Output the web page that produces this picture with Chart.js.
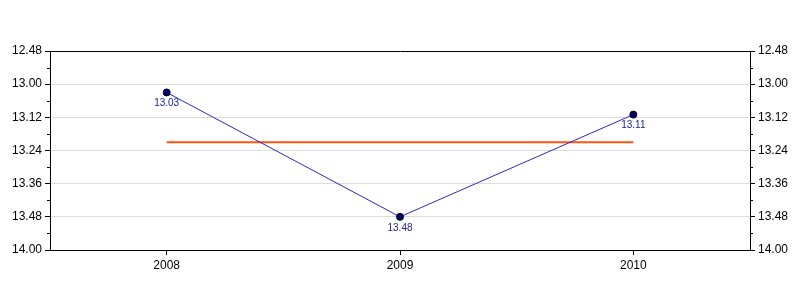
<!DOCTYPE html>
<html>
<head>
<meta charset="utf-8">
<script src="https://cdn.jsdelivr.net/npm/chart.js@4/dist/chart.umd.min.js"></script>
<style>
    html, body { margin: 0; padding: 0; background: #fff; }
    #wrap { width: 800px; height: 300px; }
</style>
</head>
<body>
<div id="wrap"><canvas id="timeChart"></canvas></div>
<script>
// Data (times are minutes.seconds)
const years = ['2008', '2009', '2010'];
const times = ['13.03', '13.48', '13.11'];
const averageTimes = ['13.21', '13.21', '13.21'];
const yTickLabels = ['12.48', '13.00', '13.12', '13.24', '13.36', '13.48', '14.00'];

// "13.03" -> 783 seconds
function toSeconds(s) {
    const parts = s.split('.');
    return parseInt(parts[0]) * 60 + parseInt(parts[1]);
}
function toLabel(v) {
    const m = Math.floor(v / 60);
    const sec = Math.round(v - m * 60);
    return m + '.' + String(sec).padStart(2, '0');
}

const tickValues = yTickLabels.map(toSeconds);
const yMin = tickValues[0];
const yMax = tickValues[tickValues.length - 1];
const FONT = "'Liberation Sans', Arial, sans-serif";

// minor ticks half way between the major ones, on both y axes
const minorTicks = {
    id: 'minorTicks',
    afterDraw(chart) {
        const ctx = chart.ctx;
        ctx.save();
        ctx.strokeStyle = '#000';
        ctx.lineWidth = 1;
        ['y', 'y2'].forEach(id => {
            const sc = chart.scales[id];
            for (let i = 0; i < tickValues.length - 1; i++) {
                const py = Math.round(sc.getPixelForValue((tickValues[i] + tickValues[i + 1]) / 2)) + 0.5;
                ctx.beginPath();
                if (id === 'y') {
                    ctx.moveTo(sc.right - 3, py);
                    ctx.lineTo(sc.right, py);
                } else {
                    ctx.moveTo(sc.left, py);
                    ctx.lineTo(sc.left + 3, py);
                }
                ctx.stroke();
            }
        });
        ctx.restore();
    }
};

// value labels under the points
const pointLabels = {
    id: 'pointLabels',
    afterDatasetsDraw(chart) {
        const ctx = chart.ctx;
        const meta = chart.getDatasetMeta(0);
        ctx.save();
        ctx.font = '10px ' + FONT;
        ctx.fillStyle = '#1a1a9a';
        ctx.textAlign = 'center';
        ctx.textBaseline = 'middle';
        meta.data.forEach((pt, i) => {
            ctx.fillText(times[i], pt.x, pt.y + 11);
        });
        ctx.restore();
    }
};

function yAxis(position) {
    return {
        type: 'linear',
        position: position,
        reverse: true,
        min: yMin,
        max: yMax,
        afterBuildTicks: axis => {
            axis.ticks = tickValues.map(v => ({ value: v }));
        },
        afterFit: axis => { axis.width = 50; },
        border: { display: true, color: '#000', width: 1 },
        grid: {
            display: position === 'left',
            drawOnChartArea: position === 'left',
            color: ctx => (ctx.tick && (ctx.tick.value === yMin || ctx.tick.value === yMax)) ? '#000' : '#dcdcdc',
            tickColor: '#000',
            tickLength: 5
        },
        ticks: {
            color: '#000',
            font: { family: FONT, size: 12 },
            padding: 3,
            callback: v => toLabel(v)
        }
    };
}

const y2 = yAxis('right');
y2.grid = { display: true, drawOnChartArea: false, tickColor: '#000', tickLength: 5 };

new Chart(document.getElementById('timeChart'), {
    type: 'line',
    data: {
        labels: years,
        datasets: [{
            data: times.map(toSeconds),
            borderColor: '#2b2bb8',
            borderWidth: 1,
            pointBackgroundColor: '#000070',
            pointBorderColor: '#000',
            pointBorderWidth: 1,
            pointRadius: 3.5,
            tension: 0,
            yAxisID: 'y'
        }, {
            data: averageTimes.map(toSeconds),
            borderColor: '#ff5511',
            borderWidth: 2,
            pointRadius: 0,
            tension: 0,
            yAxisID: 'y'
        }]
    },
    options: {
        responsive: true,
        maintainAspectRatio: false,
        animation: false,
        layout: { padding: { top: 51, left: 0, right: 0, bottom: 0 } },
        plugins: {
            legend: { display: false },
            tooltip: { enabled: false }
        },
        scales: {
            x: {
                offset: true,
                afterFit: axis => { axis.height = 50; },
                border: { display: true, color: '#000', width: 1 },
                grid: {
                    offset: false,
                    drawOnChartArea: false,
                    tickColor: '#000',
                    tickLength: 5
                },
                ticks: {
                    color: '#000',
                    font: { family: FONT, size: 12 },
                    padding: 3,
                    maxRotation: 0
                }
            },
            y: yAxis('left'),
            y2: y2
        }
    },
    plugins: [minorTicks, pointLabels]
});
</script>
</body>
</html>
